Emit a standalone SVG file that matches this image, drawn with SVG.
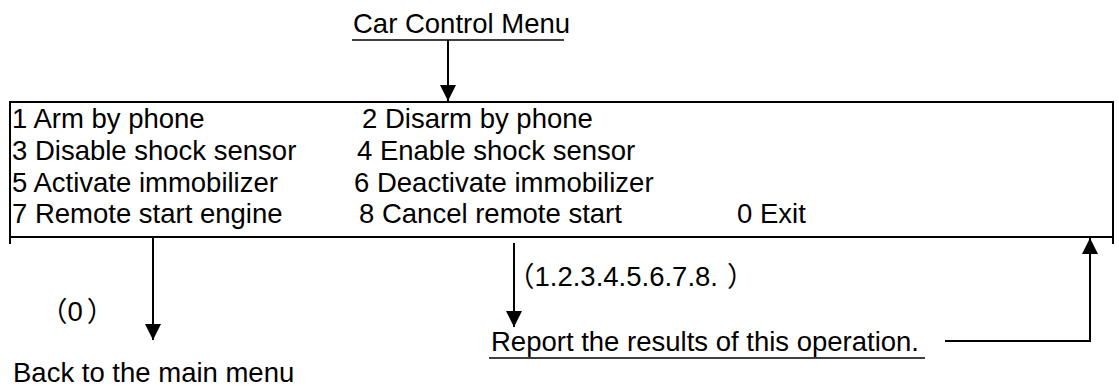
<svg xmlns="http://www.w3.org/2000/svg" width="1119" height="388" viewBox="0 0 1119 388">
<style>
text{font-family:"Liberation Sans","Noto Sans CJK SC",Arial,sans-serif;font-size:27.5px;fill:#000}
.ln{stroke:#000;stroke-width:2;fill:none}
.ul{stroke:#000;stroke-width:1.6;fill:none}
.cn{stroke:#000;stroke-width:2;fill:none}
</style>
<defs>
<marker id="ah" markerUnits="userSpaceOnUse" markerWidth="16" markerHeight="16" viewBox="0 0 16 16" refX="16" refY="8" orient="auto">
<path d="M0,0 L16,8 L0,16 Z" fill="#000"/>
</marker>
</defs>
<rect width="1119" height="388" fill="#fff"/>
<g id="title">
<text x="353" y="33">Car Control Menu</text>
<line class="ul" x1="352" y1="40" x2="564" y2="40"/>
</g>
<g id="menu">
<line class="ln" x1="10" y1="102" x2="1113" y2="102"/>
<line class="ln" x1="10" y1="237" x2="1113" y2="237"/>
<line class="ln" x1="10" y1="101" x2="10" y2="244"/>
<line class="ln" x1="1113" y1="101" x2="1113" y2="244"/>
<text x="12" y="128">1 Arm by phone</text>
<text x="362" y="128">2 Disarm by phone</text>
<text x="12" y="160">3 Disable shock sensor</text>
<text x="357" y="160">4 Enable shock sensor</text>
<text x="12" y="191.5">5 Activate immobilizer</text>
<text x="354" y="191.5">6 Deactivate immobilizer</text>
<text x="12" y="223">7 Remote start engine</text>
<text x="359" y="223">8 Cancel remote start</text>
<text x="737" y="223">0 Exit</text>
</g>
<g id="back">
<text x="13" y="382">Back to the main menu</text>
</g>
<g id="report">
<text x="491" y="351">Report the results of this operation.</text>
<line class="ul" x1="489" y1="358" x2="925" y2="358"/>
</g>
<g id="labels">
<text x="40" y="321">（0<tspan dx="4">）</tspan></text>
<text x="507" y="286">（1.2.3.4.5.6.7.8.<tspan dx="9">）</tspan></text>
</g>
<g id="connectors">
<line class="cn" x1="448" y1="40" x2="448" y2="101" marker-end="url(#ah)"/>
<line class="cn" x1="153" y1="237" x2="153" y2="340" marker-end="url(#ah)"/>
<line class="cn" x1="514" y1="243" x2="514" y2="327" marker-end="url(#ah)"/>
<polyline class="cn" points="945,341 1090,341 1090,238" marker-end="url(#ah)"/>
</g>
</svg>
